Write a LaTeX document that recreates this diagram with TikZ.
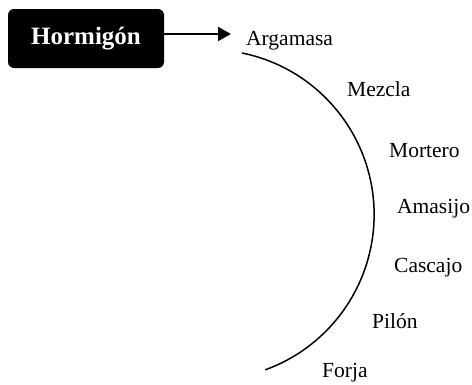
\documentclass[tikz,border=0pt]{standalone}
\usepackage{fontspec}
\setmainfont{Liberation Serif}
\usepackage{tikz}
\usetikzlibrary{arrows.meta}
\usetikzlibrary{calc}

\tikzset{
  headbox/.style={fill=black,text=white,rounded corners=6pt,inner sep=0pt,
    minimum width=156pt,minimum height=59pt,font=\fontsize{25}{29}\selectfont\bfseries},
  wordlabel/.style={anchor=base west,inner sep=0pt,font=\fontsize{21.5}{25}\selectfont}
}

\begin{document}
\begin{tikzpicture}[x=1pt,y=-1pt]
\useasboundingbox (0,0) rectangle (472,384);
\node[headbox] (hormigon) at (86,38.5) {Hormigón};
\coordinate (tip) at (231,34);
   \draw [line width=2pt,-{Triangle[length=13pt,width=14pt]}] (hormigon.east |- tip) -- (tip);
%% words along the curve
\foreach \x/\y/\nm/\word in {246/45/argamasa/Argamasa, 347/96/mezcla/Mezcla, 389/157/mortero/Mortero,
    397/213/amasijo/Amasijo, 394/272/cascajo/Cascajo, 372/328/pilon/Pilón, 322/377/forja/Forja}
    \node[wordlabel] (\nm) at (\x,\y) {\word};
\coordinate (arctop) at (242,53);
\draw[line width=1.5pt] (arctop) arc[start angle=78.5,end angle=-70.1,radius=165pt];
\end{tikzpicture}
\end{document}
